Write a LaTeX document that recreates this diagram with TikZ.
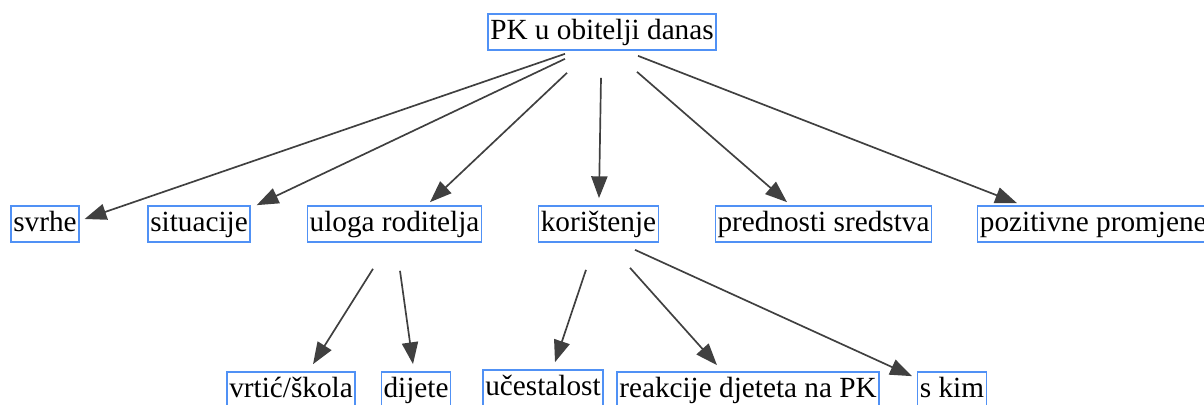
\documentclass[tikz,border=0pt]{standalone}
\usepackage{fontspec}
\setmainfont{Liberation Serif}
\usepackage{xcolor}
\usetikzlibrary{arrows.meta}

\definecolor{boxblue}{RGB}{80,145,245}
\definecolor{arrgray}{RGB}{64,64,64}

\begin{document}
\begin{tikzpicture}[x=0.025cm, y=-0.025cm,
        box/.style={draw=boxblue, line width=1pt, inner xsep=1.6pt, inner ysep=0pt,
            text height=18.5pt, text depth=7.3pt, font=\fontsize{20.8pt}{24pt}\selectfont},
        arr/.style={draw=arrgray, line width=1.2pt, -{Triangle[length=15.5pt, width=11.5pt]}}]
        \useasboundingbox (0,0) rectangle (1204,405);

        \node[box] (pk) at (602,32) {PK u obitelji danas};
        \node[box] (svrhe) at (45,224) {svrhe};
        \node[box] (situacije) at (199,224) {situacije};
        \node[box] (uloga) at (394.5,224) {uloga roditelja};
        \node[box] (kor) at (598.5,224) {korištenje};
        \node[box] (prednosti) at (823.5,224) {prednosti sredstva};
        \node[box, anchor=west] (pozitivne) at (977,224) {pozitivne promjene};
        \node[box] (vrtic) at (291,390) {vrtić/škola};
        \node[box] (dijete) at (416,390) {dijete};
        \node[box] (ucest) at (543,388) {učestalost};
        \node[box] (reakcije) at (748,390) {reakcije djeteta na PK};
        \node[box] (skim) at (952,390) {s kim};

        \draw[arr] ([shift={(-37,3)}]pk.south) -- ([shift={(5,-5)}]svrhe.east);
        \draw[arr] ([shift={(-37,8)}]pk.south) -- ([shift={(6,0)}]situacije.north east);
        \draw[arr] ([shift={(-35,22)}]pk.south) -- ([shift={(35.5,-3)}]uloga.north);
        \draw[arr] ([shift={(-1,27)}]pk.south) -- ([shift={(0.5,-7)}]kor.north);
        \draw[arr] ([shift={(35,21)}]pk.south) -- ([shift={(-36.5,-3)}]prednosti.north);
        \draw[arr] ([shift={(36,5)}]pk.south) -- ([shift={(40,-2)}]pozitivne.north west);

        \draw[arr] ([shift={(-21.5,26)}]uloga.south) -- ([shift={(22,-7)}]vrtic.north);
        \draw[arr] ([shift={(5.5,28)}]uloga.south) -- ([shift={(-3,-7)}]dijete.north);
        \draw[arr] ([shift={(-12.5,27)}]kor.south) -- ([shift={(12,-7)}]ucest.north);
        \draw[arr] ([shift={(31.5,25)}]kor.south) -- ([shift={(-31,-6)}]reakcije.north);
        \draw[arr] ([shift={(36.5,7)}]kor.south) -- ([shift={(-5,5)}]skim.north west);
    \end{tikzpicture}
\end{document}
